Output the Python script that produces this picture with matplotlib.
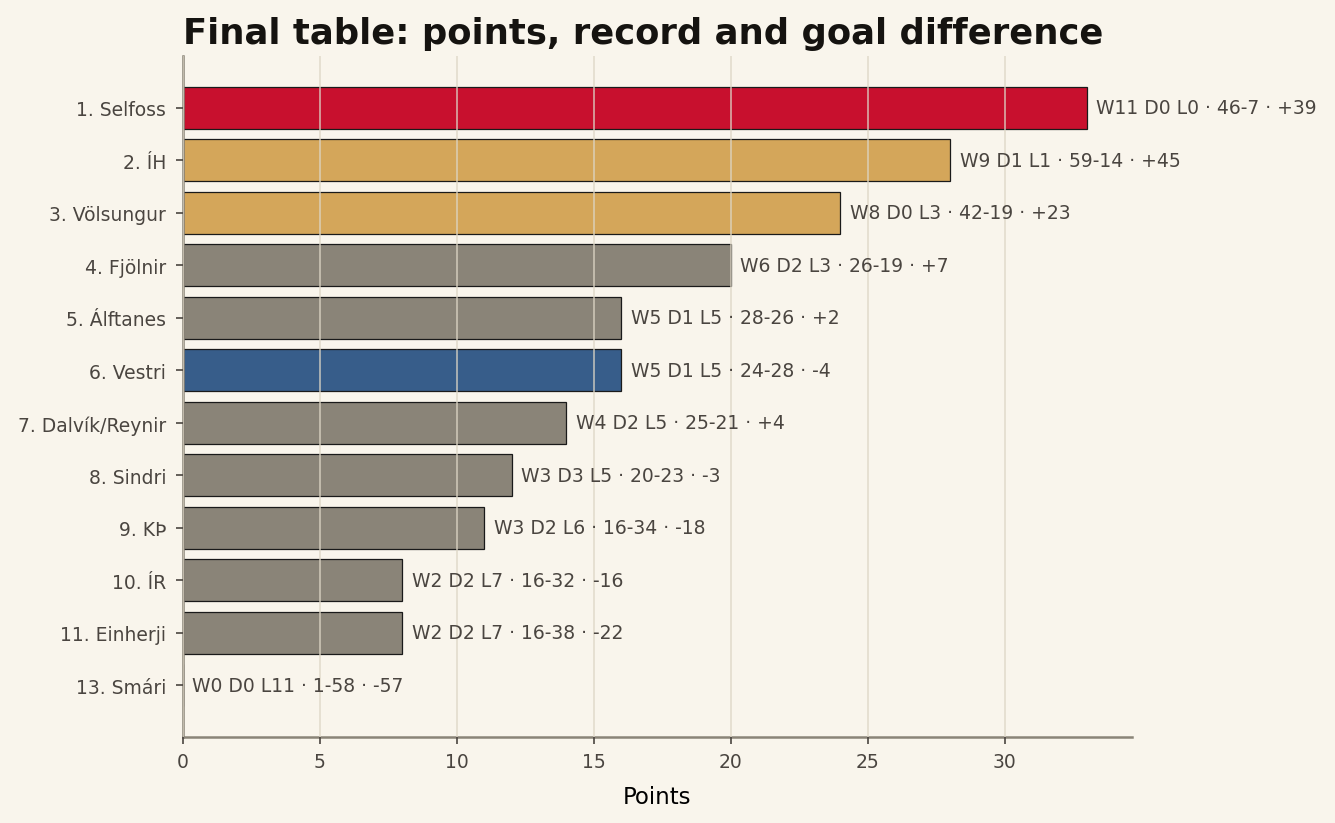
import matplotlib.pyplot as plt

teams = ['1. Selfoss', '2. ÍH', '3. Völsungur', '4. Fjölnir', '5. Álftanes', '6. Vestri',
         '7. Dalvík/Reynir', '8. Sindri', '9. KÞ', '10. ÍR', '11. Einherji', '13. Smári']
points = [33, 28, 24, 20, 16, 16, 14, 12, 11, 8, 8, 0]
records = ['W11 D0 L0 · 46-7 · +39', 'W9 D1 L1 · 59-14 · +45', 'W8 D0 L3 · 42-19 · +23',
           'W6 D2 L3 · 26-19 · +7', 'W5 D1 L5 · 28-26 · +2', 'W5 D1 L5 · 24-28 · -4',
           'W4 D2 L5 · 25-21 · +4', 'W3 D3 L5 · 20-23 · -3', 'W3 D2 L6 · 16-34 · -18',
           'W2 D2 L7 · 16-32 · -16', 'W2 D2 L7 · 16-38 · -22', 'W0 D0 L11 · 1-58 · -57']
colors = ['#c8102e', '#d4a65a', '#d4a65a', '#8a8478', '#8a8478', '#375d8a',
          '#8a8478', '#8a8478', '#8a8478', '#8a8478', '#8a8478', '#8a8478']

bg = '#f9f5ec'
txt = '#4a4540'

fig, ax = plt.subplots(figsize=(8.9, 5.493), dpi=150)
fig.patch.set_facecolor(bg)
ax.set_facecolor(bg)

ypos = range(len(teams))
ax.barh(ypos, points, height=0.8, color=colors, edgecolor='#1a1a1a', linewidth=0.6, zorder=1)
ax.set_yticks(list(ypos))
ax.set_yticklabels(teams)
ax.invert_yaxis()

for y, p, r in zip(ypos, points, records):
    ax.text(p + 0.35, y, r, va='center', ha='left', fontsize=9, color=txt)

ax.set_xlim(0, max(points) * 1.05)
ax.grid(axis='x', color='#ddd6c6', alpha=0.8, linewidth=0.8, zorder=2)
ax.set_axisbelow(False)

for s in ['top', 'right']:
    ax.spines[s].set_visible(False)
for s in ['left', 'bottom']:
    ax.spines[s].set_color('#8a8478')
    ax.spines[s].set_linewidth(1.2)

ax.tick_params(colors=txt, labelsize=9)
ax.tick_params(axis='y', pad=4.5)
ax.set_xlabel('Points', fontsize=11, labelpad=7)
ax.set_title('Final table: points, record and goal difference', loc='left',
             fontsize=17, fontweight='bold', color='#151310')

fig.subplots_adjust(left=0.137, right=0.848, top=0.931, bottom=0.104)
fig.savefig('out.png', facecolor=bg)
